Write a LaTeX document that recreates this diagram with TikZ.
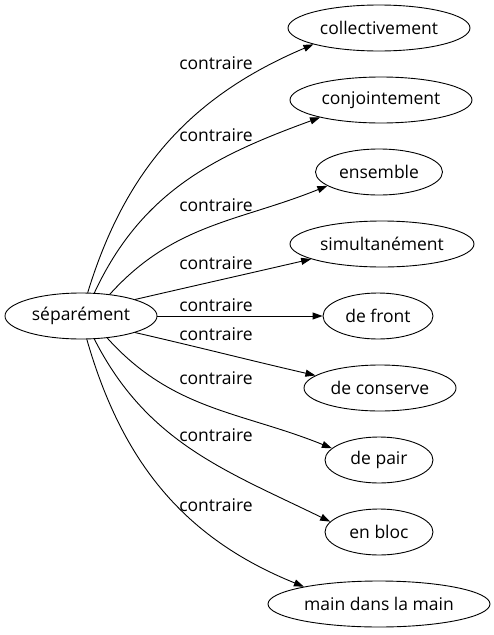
\documentclass[tikz,border=0pt]{standalone}
\usepackage{fontspec}
\setmainfont{Open Sans}
\usetikzlibrary{shapes.geometric,arrows.meta}

\begin{document}
\begin{tikzpicture}[x=1pt,y=1pt,line cap=round,line join=round,
    word/.style={draw,ellipse,line width=0.9pt,inner sep=0pt,minimum height=46pt,
      font=\fontsize{17.5}{20}\selectfont},
    lbl/.style={font=\fontsize{17.5}{20}\selectfont},
    link/.style={line width=0.9pt,-{Triangle[length=10pt,width=7pt]}}]
  \useasboundingbox (0,0) rectangle (493,-635);
  % source word
  \node[word,minimum width=152pt] (sep) at (81,-316) {séparément};
  % opposite words
  \node[word,minimum width=182pt] (coll) at (379,-28) {collectivement};
  \node[word,minimum width=182pt] (conj) at (381,-100) {conjointement};
  \node[word,minimum width=127pt] (ens) at (379,-172) {ensemble};
  \node[word,minimum width=184pt] (simu) at (382,-244) {simultanément};
  \node[word,minimum width=110pt] (front) at (378,-316) {de front};
  \node[word,minimum width=152pt] (cons) at (380,-388) {de conserve};
  \node[word,minimum width=108pt] (pair) at (379,-460) {de pair};
  \node[word,minimum width=108pt] (bloc) at (379,-532) {en bloc};
  \node[word,minimum width=222pt] (main) at (379,-604) {main dans la main};
  % edges
  \draw[link] (sep.74) to[out=73,in=203] (coll.194);
  \draw[link] (sep.60) to[out=65,in=200] (conj.196);
  \draw[link] (sep.37) to[out=48,in=202] (ens.195);
  \draw[link] (sep.17) to[out=13,in=193] (simu.192);
  \draw[link] (sep) -- (front);
  \draw[link] (sep.-17) to[out=-13,in=167] (cons.169);
  \draw[link] (sep.-40) to[out=-48,in=158] (pair.166);
  \draw[link] (sep.-60) to[out=-63,in=154] (bloc.168);
  \draw[link] (sep.-76) to[out=-74,in=158] (main.167);
  % edge labels
  \node[lbl] (c1) at (216,-63) {contraire};
  \node[lbl] (c2) at (216,-135) {contraire};
  \node[lbl] (c3) at (216,-205) {contraire};
  \node[lbl] (c4) at (216,-263) {contraire};
  \node[lbl] (c5) at (216,-305) {contraire};
  \node[lbl] (c6) at (216,-334) {contraire};
  \node[lbl] (c7) at (216,-378) {contraire};
  \node[lbl] (c8) at (216,-435) {contraire};
  \node[lbl] (c9) at (216,-505) {contraire};
\end{tikzpicture}
\end{document}
